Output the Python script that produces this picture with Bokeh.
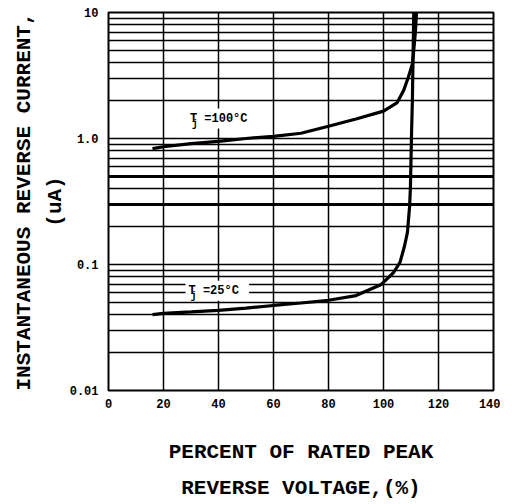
from bokeh.plotting import figure
from bokeh.models import FixedTicker, LogAxis, LinearAxis, Label, Span
from bokeh.embed import file_html
from bokeh.resources import INLINE

# ---- data ----
voltage_100 = [16, 20, 30, 40, 50, 60, 70, 80, 90, 100, 105, 107.3, 109, 110.5, 111, 111.6, 112]
current_100 = [0.83, 0.86, 0.91, 0.95, 1.0, 1.04, 1.1, 1.25, 1.43, 1.65, 1.93, 2.4, 3.05, 3.9, 5.0, 7.0, 10]

voltage_25 = [16, 20, 30, 40, 50, 60, 70, 80, 90, 99, 103.6, 106, 107.6, 108.7, 109.5, 109.8, 110.2, 110.5, 111]
current_25 = [0.040, 0.041, 0.042, 0.0432, 0.045, 0.0473, 0.0495, 0.052, 0.0567, 0.069, 0.086, 0.104, 0.139, 0.18, 0.29, 0.42, 1.1, 2.0, 10]

x_ticks = [0, 20, 40, 60, 80, 100, 120, 140]
y_major = [0.01, 0.1, 1, 10]
y_major_labels = {0.01: "0.01", 0.1: "0.1", 1: "1.0", 10: "10"}
y_minor = [m * d for d in (0.01, 0.1, 1) for m in range(2, 10)]
heavy_grid = [0.3, 0.5]

FONT = "Liberation Mono"

p = figure(width=500, height=502, x_range=(0, 140), y_range=(0.01, 10),
           y_axis_type="log", output_backend="svg", toolbar_location=None,
           min_border_left=108, min_border_right=7, min_border_top=12, min_border_bottom=111)
p.background_fill_color = "white"
p.border_fill_color = "white"
p.outline_line_color = "black"
p.outline_line_width = 2

# grids
p.xaxis.ticker = FixedTicker(ticks=x_ticks)
p.yaxis.ticker = FixedTicker(ticks=y_major, minor_ticks=y_minor)
p.xgrid.grid_line_color = "black"
p.xgrid.grid_line_width = 1.5
p.ygrid.grid_line_color = "black"
p.ygrid.grid_line_width = 1.5
p.ygrid.minor_grid_line_color = "black"
p.ygrid.minor_grid_line_width = 1.3
for v in heavy_grid:
    p.add_layout(Span(location=v, dimension="width", line_color="black", line_width=3))

# axes styling
for ax in (p.xaxis[0], p.yaxis[0]):
    ax.axis_line_color = None
    ax.major_tick_line_color = None
    ax.minor_tick_line_color = None
    ax.major_label_text_font = FONT
    ax.major_label_text_font_style = "bold"
    ax.major_label_text_font_size = "12px"
    ax.major_label_text_color = "black"
    ax.axis_label_text_font = FONT
    ax.axis_label_text_font_style = "bold"
    ax.axis_label_text_font_size = "21px"
    ax.axis_label_text_color = "black"
p.yaxis.major_label_overrides = y_major_labels
p.yaxis.major_label_standoff = 4
p.xaxis.major_label_standoff = 2

p.xaxis.axis_label = "PERCENT OF RATED PEAK"
p.xaxis.axis_label_standoff = 30
p.yaxis.axis_label = "(uA)"
p.yaxis.axis_label_standoff = 0

# outer title lines via tickless axes
x_outer = LinearAxis(ticker=FixedTicker(ticks=[]), axis_label="REVERSE VOLTAGE,(%)",
                     axis_line_color=None, major_tick_line_color=None, minor_tick_line_color=None,
                     axis_label_text_font=FONT, axis_label_text_font_style="bold",
                     axis_label_text_color="black",
                     axis_label_text_font_size="21px", axis_label_standoff=10)
p.add_layout(x_outer, "below")
y_outer = LogAxis(ticker=FixedTicker(ticks=[]), axis_label="INSTANTANEOUS REVERSE CURRENT,",
                  axis_line_color=None, major_tick_line_color=None, minor_tick_line_color=None,
                  axis_label_text_font=FONT, axis_label_text_font_style="bold",
                  axis_label_text_color="black",
                  axis_label_text_font_size="21px", axis_label_standoff=5)
p.add_layout(y_outer, "left")

# curves
p.line(voltage_100, current_100, line_color="black", line_width=3.2)
p.line(voltage_25, current_25, line_color="black", line_width=3.2)

# curve labels
for (x, y, t) in [(28.5, 1.44, "T  =100°C"), (28, 0.062, "T  =25°C")]:
    p.add_layout(Label(x=x, y=y, text=t, text_font=FONT, text_font_style="bold",
                       text_font_size="12px", text_baseline="middle", text_color="black",
                       background_fill_color="white", padding=3))
for (x, y) in [(30.3, 1.30), (29.8, 0.056)]:
    p.add_layout(Label(x=x, y=y, text="j", text_font=FONT, text_font_style="bold",
                       text_font_size="10px", text_baseline="middle", text_color="black"))

open("out.html", "w").write(file_html(p, INLINE))
